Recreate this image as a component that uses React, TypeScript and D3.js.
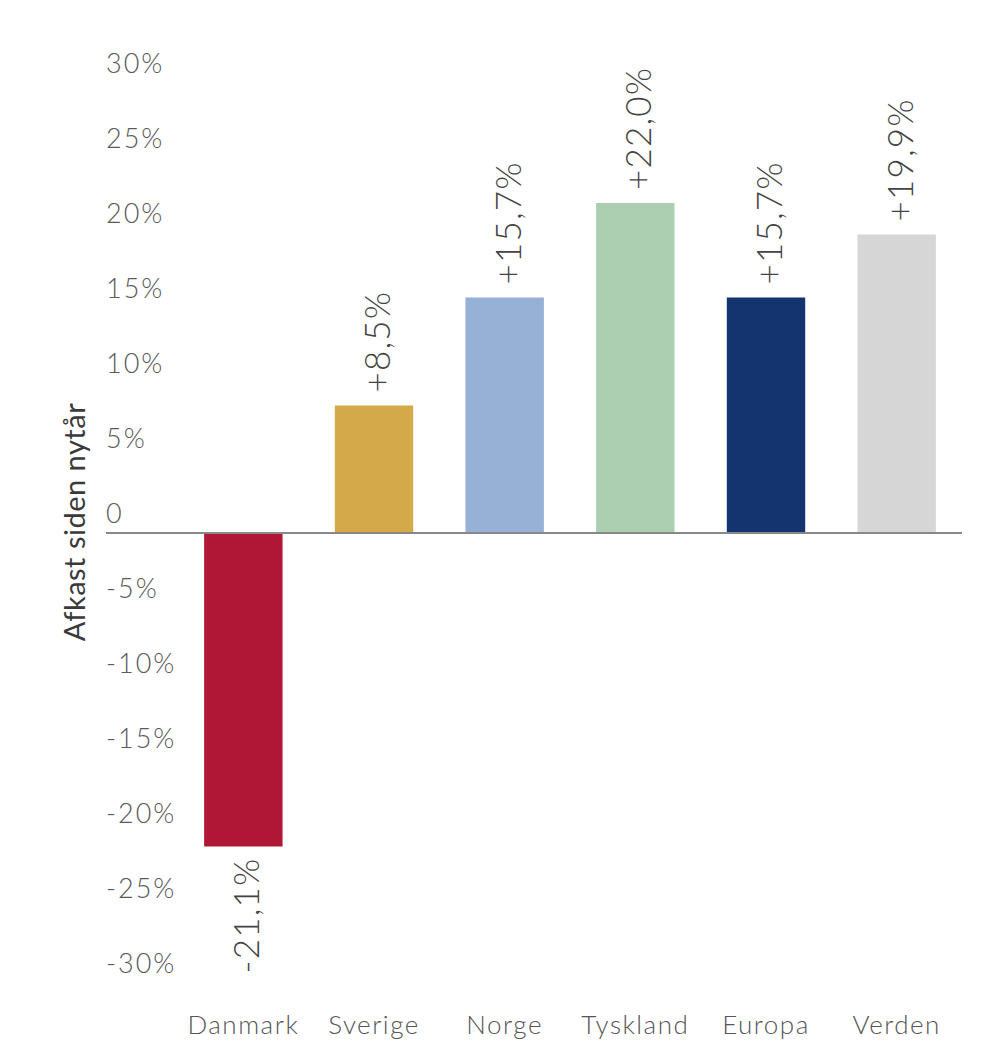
import * as d3 from "d3";
import React from "react";
import { useRef, useEffect } from "react";

const categories = ["Danmark", "Sverige", "Norge", "Tyskland", "Europa", "Verden"];
const values = [-20.9, 8.5, 15.7, 22.0, 15.7, 19.9];
const valueLabels = ["-21,1%", "+8,5%", "+15,7%", "+22,0%", "+15,7%", "+19,9%"];
const barColors = ["#B01736", "#D4A94A", "#97B0D5", "#ABCFB0", "#13346E", "#D6D6D6"];
const tickValues = [30, 25, 20, 15, 10, 5, 0, -5, -10, -15, -20, -25, -30];
const tickLabels = ["30%", "25%", "20%", "15%", "10%", "5%", "0", "-5%", "-10%", "-15%", "-20%", "-25%", "-30%"];

const width = 1008;
const height = 1064;
const font = "Lato, 'Open Sans', sans-serif";

const App = () => {
  const svgRef = useRef(null);

  useEffect(() => {
    const svg = d3.select(svgRef.current);
    svg.selectAll("*").remove();

    const x = d3
      .scaleBand()
      .domain(categories)
      .range([178, 962])
      .paddingInner(0.4)
      .paddingOuter(0.2);

    const y = d3.scaleLinear().domain([-30, 30]).range([983, 83]);

    // tick labels (sit above their value)
    svg
      .append("g")
      .selectAll("text")
      .data(tickValues)
      .join("text")
      .attr("x", 106)
      .attr("y", (d) => y(d) - 10)
      .text((_d, i) => tickLabels[i])
      .style("font-family", font)
      .style("font-weight", 300)
      .style("font-size", "27px")
      .style("letter-spacing", "2px")
      .style("fill", "#5a5a5a");

    // axis title
    svg
      .append("text")
      .attr("transform", `translate(85,522) rotate(-90)`)
      .attr("text-anchor", "middle")
      .text("Afkast siden nytår")
      .style("font-family", font)
      .style("font-size", "29px")
      .style("letter-spacing", "0.5px")
      .style("fill", "#3a3a3a");

    // bars
    svg
      .append("g")
      .selectAll("rect")
      .data(values)
      .join("rect")
      .attr("x", (_d, i) => x(categories[i]) as number)
      .attr("width", x.bandwidth())
      .attr("y", (d) => y(Math.max(0, d)))
      .attr("height", (d) => Math.abs(y(d) - y(0)))
      .style("fill", (_d, i) => barColors[i]);

    // zero line
    svg
      .append("line")
      .attr("x1", 106)
      .attr("x2", 962)
      .attr("y1", y(0))
      .attr("y2", y(0))
      .style("stroke", "#888")
      .style("stroke-width", 2);

    // value labels
    svg
      .append("g")
      .selectAll("text")
      .data(values)
      .join("text")
      .attr("transform", (d, i) => {
        const cx = (x(categories[i]) as number) + x.bandwidth() / 2 + 2;
        const cy = d >= 0 ? y(d) - 13 : y(d) + 11;
        return `translate(${cx},${cy}) rotate(-90)`;
      })
      .attr("text-anchor", (d) => (d >= 0 ? "start" : "end"))
      .attr("dominant-baseline", "central")
      .text((_d, i) => valueLabels[i])
      .style("font-family", font)
      .style("font-weight", 300)
      .style("font-size", "35px")
      .style("letter-spacing", "1.2px")
      .style("fill", "#444");

    // category labels
    svg
      .append("g")
      .selectAll("text")
      .data(categories)
      .join("text")
      .attr("x", (d) => (x(d) as number) + x.bandwidth() / 2)
      .attr("y", 1034)
      .attr("text-anchor", "middle")
      .text((d) => d)
      .style("font-family", font)
      .style("font-weight", 300)
      .style("font-size", "26px")
      .style("letter-spacing", "1.5px")
      .style("fill", "#555");
  }, []);

  return (
    <svg
      ref={svgRef}
      width={width}
      height={height}
      style={{ position: "absolute", left: 0, top: 0, background: "#fff" }}
    ></svg>
  );
};

export default App;
